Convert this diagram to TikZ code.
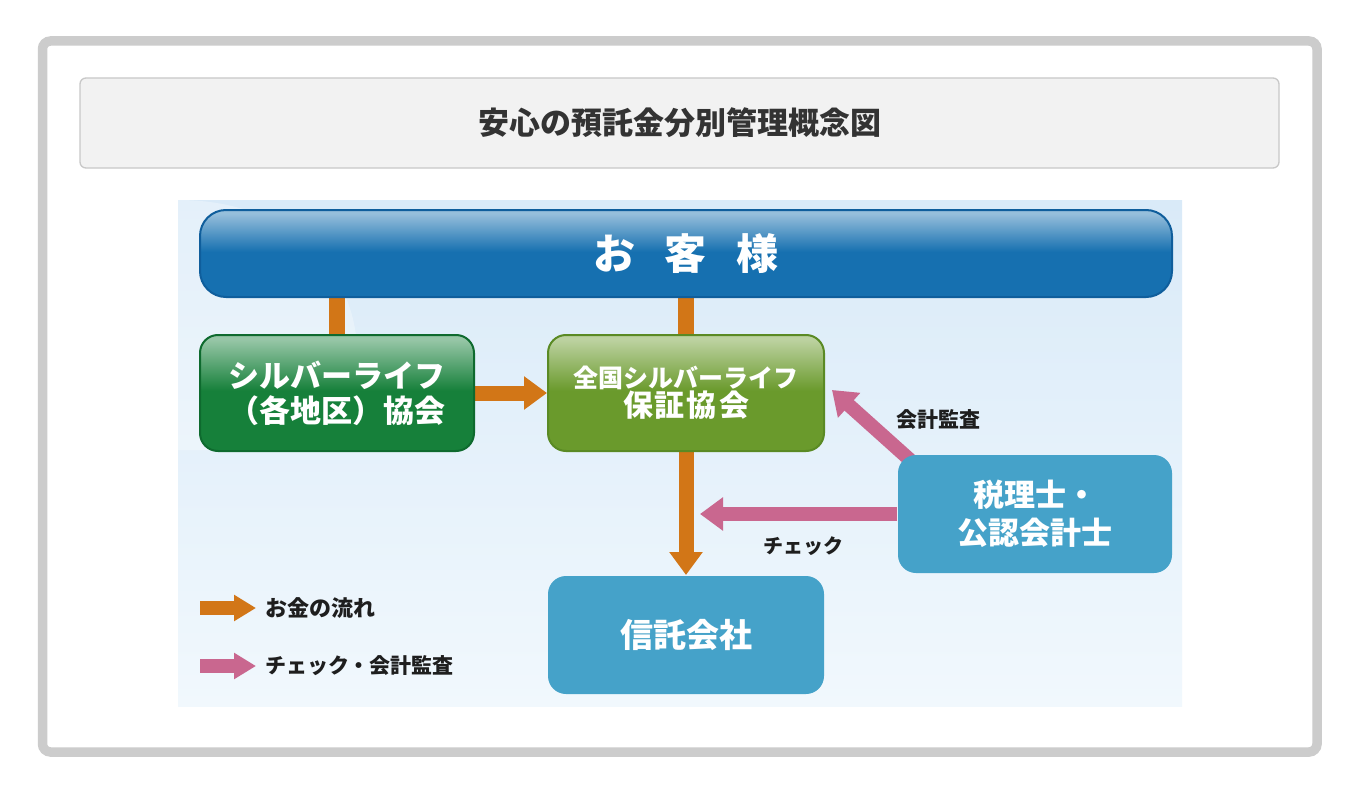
\documentclass[tikz,border=0pt]{standalone}
\usepackage{fontspec}
\setmainfont{Noto Sans CJK JP}
\usetikzlibrary{arrows.meta}
\definecolor{frameg}{HTML}{CCCCCC}
\definecolor{titlebg}{HTML}{F2F2F2}
\definecolor{titlebd}{HTML}{C8C8C8}
\definecolor{titletx}{HTML}{333333}
\definecolor{bgtop}{HTML}{D9EAF8}
\definecolor{bgbot}{HTML}{F1F8FD}
\definecolor{custblue}{HTML}{1670B0}
\definecolor{custbd}{HTML}{0F5E9C}
\definecolor{silgreen}{HTML}{16803A}
\definecolor{silbd}{HTML}{0E6A2E}
\definecolor{hosgreen}{HTML}{6A9A2C}
\definecolor{hosbd}{HTML}{5A8A24}
\definecolor{lblue}{HTML}{45A2C9}
\definecolor{flowc}{HTML}{D27617}
\definecolor{checkc}{HTML}{C9678F}
\definecolor{txtc}{HTML}{1E1E1E}
\colorlet{glossbase}{black}
\colorlet{glosstop}{white}
\pgfdeclareverticalshading[glossbase,glosstop]{glossy}{100bp}{color(0bp)=(glossbase); color(25bp)=(glossbase); color(51bp)=(glossbase); color(73bp)=(glosstop); color(100bp)=(glosstop)}
\pgfdeclarelayer{back}
\pgfdeclarelayer{bg}
\pgfsetlayers{back,bg,main}
\tikzset{
  gloss/.style={path picture={\colorlet{glossbase}{#1}\colorlet{glosstop}{white!55!#1}
      \shade[shading=glossy]
      (path picture bounding box.north west) rectangle (path picture bounding box.south east);}},
  box/.style={rounded corners=18pt, inner sep=0pt, align=center, text=white,
      font=\bfseries, line width=2pt},
  flow/.style={draw=flowc, line width=15pt, -{Triangle[length=23pt,width=32pt]}},
  flowbar/.style={draw=flowc, line width=16pt},
  check/.style={draw=checkc, line width=14pt, -{Triangle[length=23pt,width=32pt]}},
  lflow/.style={draw=flowc, line width=14pt, -{Triangle[length=22pt,width=25pt]}},
  lcheck/.style={draw=checkc, line width=14pt, -{Triangle[length=22pt,width=25pt]}},
  lbl/.style={text=txtc, font=\bfseries\fontsize{20}{24}\selectfont, inner sep=0pt},
}
\begin{document}
\begin{tikzpicture}[x=1pt,y=-1pt]
\useasboundingbox (0,0) rectangle (1358,800);
\begin{pgfonlayer}{back}
\fill[white] (0,0) rectangle (1358,800);
% outer frame
\draw[frameg, line width=9.5pt, rounded corners=8pt] (42.5,41) rectangle (1317,752);
% diagram background
\shade[top color=bgtop, bottom color=bgbot] (178,200) rectangle (1182,706);
\fill[white, opacity=0.3] (178,200) .. controls (330,200) and (400,330) .. (330,450) -- (178,450) -- cycle;
\end{pgfonlayer}
% title
\node[draw=titlebd, fill=titlebg, line width=1.3pt, rounded corners=6pt, minimum width=1199pt,
      minimum height=90pt, inner sep=0pt, text=titletx,
      font=\bfseries\fontsize{31}{36}\selectfont] (title) at (679.5,123) {安心の預託金分別管理概念図};
% nodes
\node[box, draw=custbd, fill=custblue, gloss=custblue, rounded corners=26pt,
      minimum width=972pt, minimum height=87pt,
      font=\bfseries\fontsize{42}{48}\selectfont] (cust) at (686,253.5)
      {お\hspace{30pt}客\hspace{30pt}様};
\node[box, draw=silbd, fill=silgreen, gloss=silgreen, minimum width=274pt, minimum height=116pt,
      font=\bfseries\fontsize{31}{35}\selectfont] (silver) at (337,393)
      {シルバーライフ\\（各地区）協会};
\node[box, draw=hosbd, fill=hosgreen, gloss=hosgreen, minimum width=276pt, minimum height=116pt] (hosho) at (686,393)
      {{\fontsize{25}{33}\selectfont 全国シルバーライフ}\\{\fontsize{30}{33}\selectfont 保\hspace{2pt}証\hspace{2pt}協\hspace{2pt}会}};
\node[box, fill=lblue, minimum width=276pt, minimum height=118pt,
      font=\bfseries\fontsize{33}{38}\selectfont] (trust) at (686,635) {信託会社};
\node[box, fill=lblue, minimum width=274pt, minimum height=118pt,
      font=\bfseries\fontsize{31}{38}\selectfont] (acct) at (1035,514) {税理士・\\公認会計士};
% labels
\node[lbl, anchor=west, font=\bfseries\fontsize{21}{24}\selectfont] (l1) at (896,420) {会計監査};
\node[lbl, anchor=west] (l2) at (763,546) {チェック};
\node[lbl, anchor=west, font=\bfseries\fontsize{22}{24}\selectfont] (leg1) at (265,608) {お金の流れ};
\node[lbl, anchor=west, font=\bfseries\fontsize{21}{24}\selectfont] (leg2) at (265,666) {チェック・会計監査};
\coordinate (leg1s) at (200,608);
\coordinate (leg2s) at (200,666);
\coordinate (chk) at (700,514);
% connectors
\begin{pgfonlayer}{bg}
\draw[flowbar] (silver.north) -- (silver.north |- cust.south);
\draw[flowbar] (hosho.north) -- (hosho.north |- cust.south);
\draw[flow] (silver.east) -- (hosho.west);
\draw[flow] (hosho.south) -- (trust.north);
\draw[check] (acct.west) -- (chk);
\draw[check] ([xshift=22pt,yshift=-14pt]acct.north west) -- ([xshift=7pt,yshift=3pt]hosho.east);
\draw[lflow] (leg1s) -- ([xshift=-9pt]leg1.west);
\draw[lcheck] (leg2s) -- ([xshift=-9pt]leg2.west);
\end{pgfonlayer}
\end{tikzpicture}
\end{document}
